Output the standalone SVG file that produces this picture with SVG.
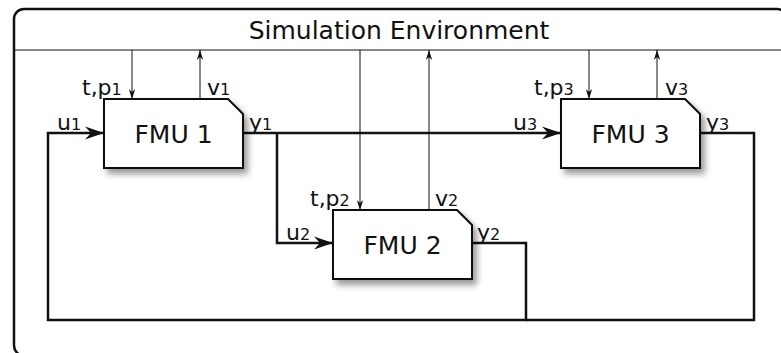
<svg xmlns="http://www.w3.org/2000/svg" width="781" height="353" viewBox="0 0 781 353">
<style>
text{font-family:"DejaVu Sans","Liberation Sans",sans-serif;fill:#111}
.hdr{font-size:25px}
.fmu{font-size:25px;text-anchor:middle}
.lbl{font-size:22px}
.sub{font-size:16px}
.box{fill:#fff;stroke:#111;stroke-width:2;filter:url(#sh)}
.thick{fill:none;stroke:#111;stroke-width:2.5}
.thin{fill:none;stroke:#111;stroke-width:1}
</style>
<defs>
<filter id="sh" x="-10%" y="-10%" width="130%" height="140%">
<feDropShadow dx="4" dy="5" stdDeviation="3" flood-color="#000" flood-opacity="0.4"/>
</filter>
<marker id="ab" markerUnits="userSpaceOnUse" viewBox="-20 -7 21 14" refX="0" refY="0" markerWidth="21" markerHeight="14" orient="auto">
<path d="M0,0 L-19,-6.5 L-13,0 L-19,6.5 Z" fill="#111"/>
</marker>
<marker id="as" markerUnits="userSpaceOnUse" viewBox="-11 -4 12 8" refX="0" refY="0" markerWidth="12" markerHeight="8" orient="auto">
<path d="M0,0 L-10,-3.2 L-7,0 L-10,3.2 Z" fill="#111"/>
</marker>
</defs>
<g id="environment">
<rect x="14" y="9" width="773" height="346.5" rx="10" ry="10" fill="#fff" stroke="#111" stroke-width="2.5"/>
<line x1="14" y1="50" x2="787" y2="50" stroke="#111" stroke-width="1"/>
<text class="hdr" x="399" y="39" text-anchor="middle">Simulation Environment</text>
</g>
<g id="connectors">
<path class="thick" d="M243,133 L561,133" marker-end="url(#ab)"/>
<path class="thick" d="M277,133 L277,243 L333,243" marker-end="url(#ab)"/>
<path class="thick" d="M471,243 L526,243 L526,320 L48,320 L48,133 L104,133" marker-end="url(#ab)"/>
<path class="thick" d="M700,133 L754,133 L754,320 L526,320"/>
<path class="thin" d="M132,50 L132,99" marker-end="url(#as)"/>
<path class="thin" d="M200,99 L200,50" marker-end="url(#as)"/>
<path class="thin" d="M589,50 L589,99" marker-end="url(#as)"/>
<path class="thin" d="M657,99 L657,50" marker-end="url(#as)"/>
<path class="thin" d="M360,50 L360,210" marker-end="url(#as)"/>
<path class="thin" d="M429,210 L429,50" marker-end="url(#as)"/>
<text class="lbl" x="82" y="95">t,p<tspan class="sub">1</tspan></text>
<text class="lbl" x="207" y="95">v<tspan class="sub">1</tspan></text>
<text class="lbl" x="57" y="130">u<tspan class="sub">1</tspan></text>
<text class="lbl" x="249" y="130">y<tspan class="sub">1</tspan></text>
<text class="lbl" x="534" y="95">t,p<tspan class="sub">3</tspan></text>
<text class="lbl" x="665" y="95">v<tspan class="sub">3</tspan></text>
<text class="lbl" x="513" y="130">u<tspan class="sub">3</tspan></text>
<text class="lbl" x="706" y="130">y<tspan class="sub">3</tspan></text>
<text class="lbl" x="310" y="206">t,p<tspan class="sub">2</tspan></text>
<text class="lbl" x="435" y="206">v<tspan class="sub">2</tspan></text>
<text class="lbl" x="286" y="240">u<tspan class="sub">2</tspan></text>
<text class="lbl" x="477" y="240">y<tspan class="sub">2</tspan></text>
</g>
<g id="fmu1">
<path class="box" d="M104,99 L228,99 L243,114 L243,168 L104,168 Z"/>
<text class="fmu" x="173.5" y="143">FMU 1</text>
</g>
<g id="fmu2">
<path class="box" d="M333,210 L457,210 L472,225 L472,279 L333,279 Z"/>
<text class="fmu" x="402.5" y="254">FMU 2</text>
</g>
<g id="fmu3">
<path class="box" d="M561,99 L685,99 L700,114 L700,168 L561,168 Z"/>
<text class="fmu" x="630.5" y="143">FMU 3</text>
</g>
</svg>
